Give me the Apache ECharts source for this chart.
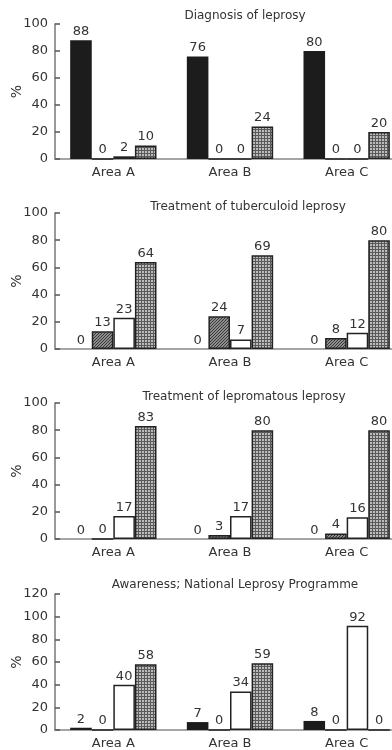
<!DOCTYPE html>
<html>
<head>
<meta charset="utf-8">
<script src="https://cdn.jsdelivr.net/npm/echarts@6/dist/echarts.min.js"></script>
<style>
html,body{margin:0;padding:0;background:#fff;}
#c{width:392px;height:750px;}
</style>
</head>
<body>
<div id="c"></div>
<script>
// ---- data ----
const categories = ['Area A', 'Area B', 'Area C'];
const panelTitles = [
  'Diagnosis of leprosy',
  'Treatment of tuberculoid leprosy',
  'Treatment of lepromatous leprosy',
  'Awareness; National Leprosy Programme'
];
const yAxisName = '%';
const yMaxes = [100, 100, 100, 120];
const yInterval = 20;
// per panel: [Area A, Area B, Area C]
const blackValues = [[88, 76, 80], [0, 0, 0], [0, 0, 0], [2, 7, 8]];
const hatchValues = [[0, 0, 0], [13, 24, 8], [0, 3, 4], [0, 0, 0]];
const whiteValues = [[2, 0, 0], [23, 7, 12], [17, 17, 16], [40, 34, 92]];
const checkValues = [[10, 24, 20], [64, 69, 80], [83, 80, 80], [58, 59, 0]];

// ---- layout ----
const gridTops = [24, 213, 403, 594];
const gridHeight = [135, 136, 136, 136];
const titleTops = [5, 196, 386, 574];
const titleCenters = [240, 243, 239, 230];

function checkPattern() {
  const c = document.createElement('canvas');
  c.width = 3; c.height = 3;
  const g = c.getContext('2d');
  g.fillStyle = '#bcbcbc'; g.fillRect(0, 0, 3, 3);
  g.fillStyle = '#5a5a5a';
  g.fillRect(0, 0, 3, 1);
  g.fillRect(0, 0, 1, 3);
  return c;
}
function hatchPattern() {
  const c = document.createElement('canvas');
  c.width = 3; c.height = 3;
  const g = c.getContext('2d');
  g.fillStyle = '#8c8c8c'; g.fillRect(0, 0, 3, 3);
  g.fillStyle = '#3a3a3a';
  g.fillRect(0, 2, 1, 1);
  g.fillRect(1, 1, 1, 1);
  g.fillRect(2, 0, 1, 1);
  return c;
}

const font = 'DejaVu Sans';
const textColor = '#333';
const chart = echarts.init(document.getElementById('c'));

const grids = [], xAxes = [], yAxes = [], series = [], titles = [], graphics = [];
const styles = [
  { vals: blackValues, color: '#1c1c1c', border: '#1c1c1c' },
  { vals: hatchValues, color: { image: hatchPattern(), repeat: 'repeat' }, border: '#222' },
  { vals: whiteValues, color: '#ffffff', border: '#222' },
  { vals: checkValues, color: { image: checkPattern(), repeat: 'repeat' }, border: '#222' }
];

for (let p = 0; p < 4; p++) {
  grids.push({ left: 55, width: 350, top: gridTops[p], height: gridHeight[p], containLabel: false, outerBoundsMode: 'none' });
  titles.push({
    text: panelTitles[p], left: titleCenters[p], top: titleTops[p], textAlign: 'center',
    textStyle: { fontFamily: font, fontSize: 12, fontWeight: 'normal', color: textColor }
  });
  graphics.push({
    type: 'text', x: 17, y: gridTops[p] + gridHeight[p] / 2, rotation: Math.PI / 2,
    style: { text: yAxisName, fontFamily: font, fontSize: 14, fill: textColor, align: 'center', verticalAlign: 'middle' }
  });
  xAxes.push({
    type: 'category', gridIndex: p, data: categories,
    axisLine: { lineStyle: { color: '#888', width: 1.5 } },
    axisTick: { alignWithLabel: true, length: 4, lineStyle: { color: '#555', width: 1.5 } },
    axisLabel: { fontFamily: font, fontSize: 13, color: textColor, margin: 7 }
  });
  yAxes.push({
    type: 'value', gridIndex: p, min: 0, max: yMaxes[p], interval: yInterval,
    splitLine: { show: false },
    axisLine: { show: true, lineStyle: { color: '#777', width: 1.5 } },
    axisTick: { show: true, inside: true, length: 5, lineStyle: { color: '#555', width: 1.5 } },
    axisLabel: { fontFamily: font, fontSize: 13, color: textColor, margin: 7 }
  });
  styles.forEach((s, i) => {
    series.push({
      type: 'bar', xAxisIndex: p, yAxisIndex: p,
      data: s.vals[p],
      barGap: '0%', barCategoryGap: '26%',
      itemStyle: { color: s.color, borderColor: s.border, borderWidth: i === 0 ? 0 : 1.5 },
      label: { show: true, position: 'top', distance: 2, fontFamily: font, fontSize: 13, color: textColor },
      animation: false
    });
  });
}

chart.setOption({
  animation: false,
  title: titles,
  graphic: graphics,
  grid: grids,
  xAxis: xAxes,
  yAxis: yAxes,
  series: series
});
</script>
</body>
</html>
